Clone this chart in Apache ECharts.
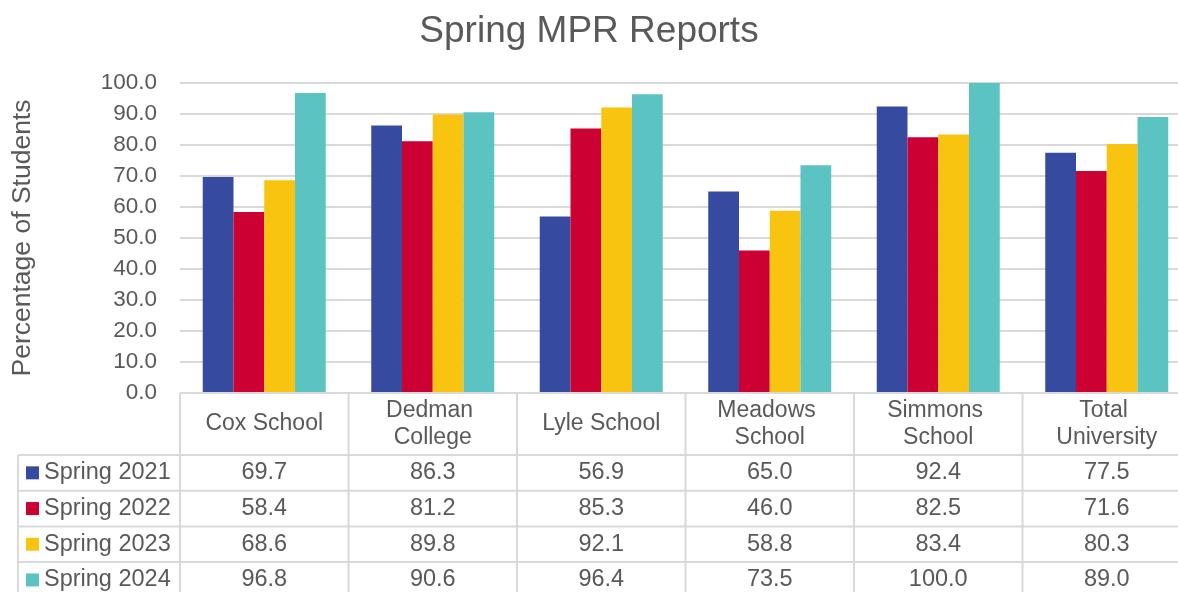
<!DOCTYPE html>
<html>
<head>
<meta charset="utf-8">
<script src="https://cdn.jsdelivr.net/npm/echarts@6/dist/echarts.min.js"></script>
<style>html,body{margin:0;padding:0;background:#fff;}#c{width:1178px;height:592px;}</style>
</head>
<body>
<div id="c"></div>
<script>
const categories = ['Cox School', 'Dedman College', 'Lyle School', 'Meadows School', 'Simmons School', 'Total University'];
const seriesNames = ['Spring 2021', 'Spring 2022', 'Spring 2023', 'Spring 2024'];
const spring2021 = [69.7, 86.3, 56.9, 65.0, 92.4, 77.5];
const spring2022 = [58.4, 81.2, 85.3, 46.0, 82.5, 71.6];
const spring2023 = [68.6, 89.8, 92.1, 58.8, 83.4, 80.3];
const spring2024 = [96.8, 90.6, 96.4, 73.5, 100.0, 89.0];
const yMin = 0, yMax = 100, yInterval = 10;

const seriesData = [spring2021, spring2022, spring2023, spring2024];
const colors = ['#364B9F', '#CC0033', '#F9C40F', '#5BC4C3'];
const textColor = '#595959';
const lineColor = '#d9d9d9';
const fontFam = '"Liberation Sans", Arial, sans-serif';

const chart = echarts.init(document.getElementById('c'));
chart.setOption({
  animation: false,
  backgroundColor: '#fff',
  title: {
    text: 'Spring MPR Reports', left: 'center', top: 8,
    textStyle: { color: textColor, fontSize: 37, fontWeight: 'normal', fontFamily: fontFam }
  },
  grid: { left: 180, width: 1011, top: 83, bottom: 199, containLabel: false, outerBoundsMode: 'none' },
  xAxis: {
    type: 'category', data: categories,
    axisLine: { show: false }, axisTick: { show: false },
    axisLabel: {
      color: textColor, fontSize: 23, fontFamily: fontFam, margin: 31,
      verticalAlign: 'middle', lineHeight: 27, width: 150, overflow: 'break', interval: 0
    }
  },
  yAxis: {
    type: 'value', min: yMin, max: yMax, interval: yInterval,
    name: 'Percentage of Students', nameLocation: 'middle', nameGap: 144, nameRotate: 90,
    nameTextStyle: { color: textColor, fontSize: 26.5, fontFamily: fontFam },
    axisLine: { show: false }, axisTick: { show: false },
    axisLabel: { color: textColor, fontSize: 22.5, fontFamily: fontFam, margin: 23, formatter: v => v.toFixed(1) },
    splitLine: { lineStyle: { color: lineColor, width: 2 } }
  },
  series: seriesNames.map((n, i) => ({
    name: n, type: 'bar', data: seriesData[i],
    itemStyle: { color: colors[i] },
    barGap: '0%', barCategoryGap: '27%'
  }))
});

// Data table below the plot, positioned from the axis scales
const xs = categories.map(c => chart.convertToPixel({ xAxisIndex: 0 }, c));
const band = xs[1] - xs[0];
const tLeft = xs[0] - band / 2;
const tRight = xs[xs.length - 1] + band / 2;
const y0 = chart.convertToPixel({ yAxisIndex: 0 }, yMin);
const headerH = 62;
const rowH = 35.7;
const legendLeft = 18;
const g = [];
const line = (x1, y1, x2, y2) => g.push({ type: 'line', silent: true, z: 10, shape: { x1, y1, x2, y2 }, style: { stroke: lineColor, lineWidth: 2 } });

const bodyTop = y0 + headerH;
const bodyBottom = bodyTop + rowH * seriesNames.length;
line(tLeft, y0, tRight, y0);
for (let r = 0; r <= seriesNames.length; r++) {
  const y = bodyTop + r * rowH;
  line(legendLeft, y, tRight, y);
}
line(legendLeft, bodyTop, legendLeft, bodyBottom);
for (let c = 0; c <= categories.length; c++) {
  const x = tLeft + c * band;
  line(x, y0, x, bodyBottom);
}
seriesNames.forEach((n, r) => {
  const cy = bodyTop + r * rowH + rowH / 2;
  g.push({ type: 'rect', silent: true, z: 11, shape: { x: 26, y: cy - 6.5, width: 13, height: 13 }, style: { fill: colors[r] } });
  g.push({ type: 'text', silent: true, z: 11, x: 44, y: cy, style: { text: n, fill: textColor, font: '23.5px ' + fontFam, align: 'left', verticalAlign: 'middle' } });
  seriesData[r].forEach((v, c) => {
    g.push({ type: 'text', silent: true, z: 11, x: xs[c], y: cy, style: { text: v.toFixed(1), fill: textColor, font: '23.5px ' + fontFam, align: 'center', verticalAlign: 'middle' } });
  });
});
chart.setOption({ graphic: g });
</script>
</body>
</html>
